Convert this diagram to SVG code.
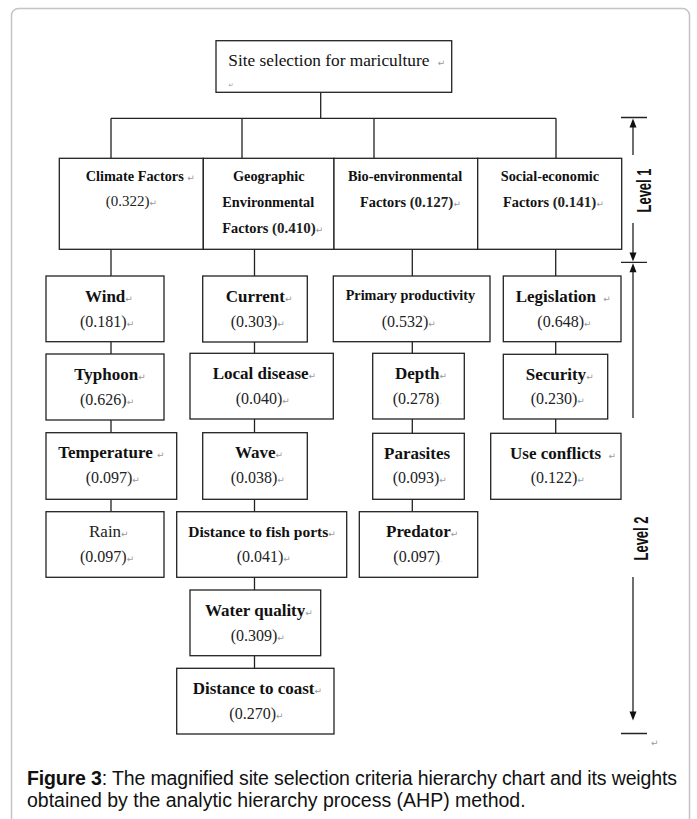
<svg xmlns="http://www.w3.org/2000/svg" width="697" height="819" viewBox="0 0 697 819">
<style>
.box{fill:#fff;stroke:#222;stroke-width:1.3}
.ln{stroke:#222;stroke-width:1.3;fill:none}
.b{font-family:"Liberation Serif",serif;font-weight:bold;font-size:17px;fill:#111}
.n{font-family:"Liberation Serif",serif;font-size:16px;fill:#222}
.b1{font-family:"Liberation Serif",serif;font-weight:bold;font-size:14.3px;fill:#111}
.n1{font-family:"Liberation Serif",serif;font-size:15px;fill:#222}
.pm{font-family:"DejaVu Sans",sans-serif;font-size:9px;font-weight:normal;fill:#999}
.lv{font-family:"Liberation Sans",sans-serif;font-weight:bold;font-size:21px;fill:#111}
.cap{font-family:"Liberation Sans",Arial,sans-serif;font-size:19.5px;fill:#111}
</style>
<rect width="697" height="819" fill="#fff"/>
<rect x="11.5" y="8.5" width="678" height="840" rx="7" fill="none" stroke="#c4c4c4" stroke-width="1.5"/>

<g id="connectors">
<path class="ln" d="M320.7 92.3V118.3M111 118.3H556M111 118.3V158.3M242 118.3V158.3M374 118.3V158.3M556 118.3V158.3"/>
<path class="ln" d="M111 249.3V276M111 341.7V354M111 420V432.7M111 499.3V511.7"/>
<path class="ln" d="M254.5 249.3V276M254.5 342V353.3M254.5 419V432.7M254.5 499.3V511.7M254.5 577.3V590M254.5 655.7V668.3"/>
<path class="ln" d="M412.3 249.3V276M412.3 341.7V353.3M412.3 419V433.3M412.3 499.3V511.7"/>
<path class="ln" d="M555.7 249.3V276M555.7 341.7V354.3M555.7 419V433.3"/>
</g>

<g id="level-scale">
<path class="ln" d="M621 117.5H647M633 127V155M633 223V253M621 262.3H647M633 271V418M633 577V712M621 733.5H647"/>
<polygon points="633,118.5 629.5,127.5 636.5,127.5" fill="#111"/>
<polygon points="633,261.5 629.5,252.5 636.5,252.5" fill="#111"/>
<polygon points="633,263.2 629.5,272.2 636.5,272.2" fill="#111"/>
<polygon points="633,720.5 629.5,711.5 636.5,711.5" fill="#111"/>
<text class="lv" transform="translate(650.5,190.5) rotate(-90)" text-anchor="middle" textLength="44" lengthAdjust="spacingAndGlyphs">Level 1</text>
<text class="lv" transform="translate(647.5,538.5) rotate(-90)" text-anchor="middle" textLength="44" lengthAdjust="spacingAndGlyphs">Level 2</text>
<text class="pm" x="651" y="746">↵</text>
</g>

<g id="root">
<rect class="box" x="216" y="40.7" width="235.7" height="51.6"/>
<text x="228.3" y="65.5" font-family="Liberation Serif, serif" font-size="17.3" fill="#111">Site selection for mariculture <tspan class="pm" dx="4">↵</tspan></text>
<text class="pm" x="228.5" y="87" style="font-size:6px">↵</text>
</g>

<g id="climate">
<rect class="box" x="59.3" y="158.3" width="144" height="91"/>
<text class="b1" x="85.7" y="181">Climate Factors <tspan class="pm">↵</tspan></text>
<text class="n1" x="105.7" y="206">(0.322)<tspan class="pm">↵</tspan></text>
</g>
<g id="geographic">
<rect class="box" x="203.3" y="158.3" width="130.7" height="91"/>
<text class="b1" x="233" y="181">Geographic</text>
<text class="b1" x="222.3" y="207">Environmental</text>
<text class="b1" x="222.3" y="233">Factors <tspan class="n1">(0.410)</tspan><tspan class="pm">↵</tspan></text>
</g>
<g id="bio">
<rect class="box" x="334" y="158.3" width="143.7" height="91"/>
<text class="b1" x="348" y="181">Bio-environmental</text>
<text class="b1" x="360" y="207">Factors <tspan class="n1">(0.127)</tspan><tspan class="pm">↵</tspan></text>
</g>
<g id="social">
<rect class="box" x="477.7" y="158.3" width="144" height="91"/>
<text class="b1" x="500.7" y="181">Social-economic</text>
<text class="b1" x="503" y="207">Factors <tspan class="n1">(0.141)</tspan><tspan class="pm">↵</tspan></text>
</g>

<g id="wind">
<rect class="box" x="46" y="276" width="118" height="65.7"/>
<text class="b" x="85" y="301.5">Wind<tspan class="pm">↵</tspan></text>
<text class="n" x="80" y="326.5">(0.181)<tspan class="pm">↵</tspan></text>
</g>
<g id="typhoon">
<rect class="box" x="46" y="354" width="118" height="66"/>
<text class="b" x="74.3" y="379.5">Typhoon<tspan class="pm">↵</tspan></text>
<text class="n" x="80" y="404.5">(0.626)<tspan class="pm">↵</tspan></text>
</g>
<g id="temperature">
<rect class="box" x="46" y="432.7" width="130.7" height="66.6"/>
<text class="b" x="58.3" y="458.2">Temperature <tspan class="pm">↵</tspan></text>
<text class="n" x="85.7" y="483">(0.097)<tspan class="pm">↵</tspan></text>
</g>
<g id="rain">
<rect class="box" x="46" y="511.7" width="118" height="65.6"/>
<text class="n" x="89" y="537.2" style="font-size:17px">Rain<tspan class="pm">↵</tspan></text>
<text class="n" x="80" y="562.2">(0.097)<tspan class="pm">↵</tspan></text>
</g>

<g id="current">
<rect class="box" x="202.7" y="276" width="104.6" height="66"/>
<text class="b" x="225.7" y="301.5">Current<tspan class="pm">↵</tspan></text>
<text class="n" x="230.7" y="326.5">(0.303)<tspan class="pm">↵</tspan></text>
</g>
<g id="local-disease">
<rect class="box" x="190" y="353.3" width="143.3" height="65.7"/>
<text class="b" x="212.7" y="379">Local disease<tspan class="pm">↵</tspan></text>
<text class="n" x="235.7" y="404">(0.040)<tspan class="pm">↵</tspan></text>
</g>
<g id="wave">
<rect class="box" x="202.7" y="432.7" width="104.6" height="66.6"/>
<text class="b" x="235" y="458.2">Wave<tspan class="pm">↵</tspan></text>
<text class="n" x="230.7" y="483">(0.038)<tspan class="pm">↵</tspan></text>
</g>
<g id="fish-ports">
<rect class="box" x="176.7" y="511.7" width="170" height="65.6"/>
<text class="b" x="188.3" y="537.2" style="font-size:15.5px">Distance to fish ports<tspan class="pm">↵</tspan></text>
<text class="n" x="236.7" y="562.2">(0.041)<tspan class="pm">↵</tspan></text>
</g>
<g id="water-quality">
<rect class="box" x="190" y="590" width="130.7" height="65.7"/>
<text class="b" x="205" y="615.5">Water quality<tspan class="pm">↵</tspan></text>
<text class="n" x="230.7" y="640.5">(0.309)<tspan class="pm">↵</tspan></text>
</g>
<g id="coast">
<rect class="box" x="176.7" y="668.3" width="157.3" height="65.7"/>
<text class="b" x="192.7" y="693.8">Distance to coast<tspan class="pm">↵</tspan></text>
<text class="n" x="229.3" y="718.8">(0.270)<tspan class="pm">↵</tspan></text>
</g>

<g id="primary-productivity">
<rect class="box" x="333.3" y="276" width="156.7" height="65.7"/>
<text class="b" x="345.7" y="300" style="font-size:14.2px">Primary productivity</text>
<text class="n" x="381.7" y="326.5">(0.532)<tspan class="pm">↵</tspan></text>
</g>
<g id="depth">
<rect class="box" x="372.7" y="353.3" width="91.6" height="65.7"/>
<text class="b" x="395" y="379">Depth<tspan class="pm">↵</tspan></text>
<text class="n" x="392.7" y="404">(0.278)<tspan class="pm" style="fill:#ccc">.</tspan></text>
</g>
<g id="parasites">
<rect class="box" x="372.7" y="433.3" width="91.6" height="66"/>
<text class="b" x="384" y="458.5">Parasites</text>
<text class="n" x="392.7" y="483">(0.093)<tspan class="pm">↵</tspan></text>
</g>
<g id="predator">
<rect class="box" x="359.3" y="511.7" width="118.4" height="65.6"/>
<text class="b" x="386" y="537.2">Predator<tspan class="pm">↵</tspan></text>
<text class="n" x="393.3" y="562.2">(0.097)<tspan class="pm" style="fill:#ccc">.</tspan></text>
</g>

<g id="legislation">
<rect class="box" x="503.3" y="276" width="117.7" height="65.7"/>
<text class="b" x="515.7" y="301.5">Legislation <tspan class="pm" dx="3">↵</tspan></text>
<text class="n" x="537.3" y="326.5">(0.648)<tspan class="pm">↵</tspan></text>
</g>
<g id="security">
<rect class="box" x="503.3" y="354.3" width="104.4" height="64.7"/>
<text class="b" x="525.7" y="379.5">Security<tspan class="pm">↵</tspan></text>
<text class="n" x="530.7" y="404">(0.230)<tspan class="pm">↵</tspan></text>
</g>
<g id="use-conflicts">
<rect class="box" x="490.7" y="433.3" width="130.3" height="66"/>
<text class="b" x="510" y="458.5">Use conflicts <tspan class="pm" dx="3">↵</tspan></text>
<text class="n" x="530.7" y="483">(0.122)<tspan class="pm">↵</tspan></text>
</g>

<g id="caption">
<text class="cap" x="27" y="785" textLength="650" lengthAdjust="spacing"><tspan font-weight="bold">Figure 3</tspan>: The magnified site selection criteria hierarchy chart and its weights</text>
<text class="cap" x="27" y="807">obtained by the analytic hierarchy process (AHP) method.</text>
</g>
</svg>
